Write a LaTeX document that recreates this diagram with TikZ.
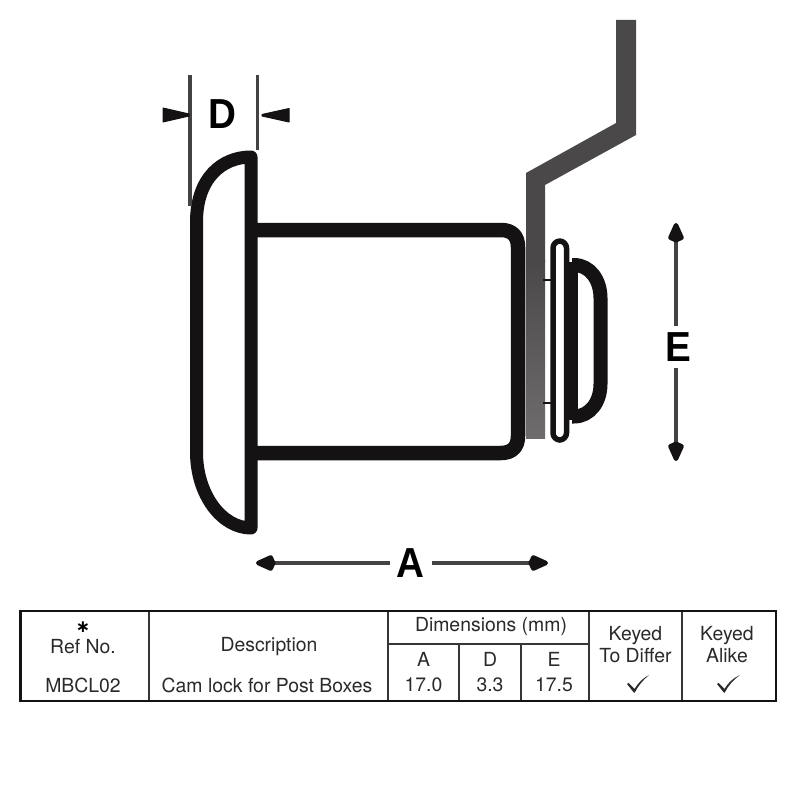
\documentclass[tikz,border=0pt]{standalone}
\usepackage{fontspec}
\setmainfont{TeX Gyre Heros}
\newfontfamily\labelfont{Liberation Sans}
\newfontfamily\starfont{DejaVu Sans}
\usetikzlibrary{arrows.meta}
\definecolor{ink}{HTML}{141213}
\definecolor{plate}{HTML}{4A4849}
\definecolor{platelow}{HTML}{6E6C6D}
\definecolor{dimc}{HTML}{444243}
\definecolor{txt}{HTML}{2B2A2A}
\tikzset{
  lockline/.style={draw=ink,line join=round},
  dimline/.style={draw=dimc,line width=4.5pt},
  dimtip/.style={-{Kite[length=23pt,width=17pt,inset=4pt,round,color=ink]}},
  wedge/.style={fill=ink,draw=ink,line width=1pt,line join=round},
  biglabel/.style={font=\labelfont\fontsize{42}{42}\selectfont\bfseries,text=black,inner sep=0pt,outer sep=4pt,xscale=0.92},
  outerrule/.style={draw=ink,line width=2.6pt},
  innerrule/.style={draw=ink!85,line width=1.4pt},
  cell/.style={font=\fontsize{19.4}{19.4}\selectfont,text=txt,inner sep=0pt,anchor=center},
  tick/.style={fill=txt,draw=none}
}
\begin{document}
\begin{tikzpicture}[x=1pt,y=-1pt]
\useasboundingbox[fill=white] (0,0) rectangle (800,800);
% plate
\shade[top color=plate,bottom color=platelow] (526,260) rectangle (545,438);
\fill[plate] (616,20) -- (636,20) -- (636,135) -- (545,185) -- (545,262) -- (526,262) -- (526,173) -- (616,123) -- cycle;
% head
\draw[lockline,line width=13pt] (251,157) .. controls (222,157) and (196.5,178) .. (196.5,222) -- (196.5,452) .. controls (196.5,495) and (222,528) .. (251,528) -- cycle;
% body
\draw[lockline,line width=14.5pt] (251,230) -- (501,230) .. controls (512,230) and (518,236) .. (518,247) -- (518,436) .. controls (518,447) and (512,453) .. (501,453) -- (251,453);
% ticks
\draw[draw=ink,line width=2pt] (543,280) -- (553,280) (543,403) -- (553,403);
% knob
\draw[lockline,line width=14pt] (572,265) -- (574,265) .. controls (590,265) and (600.5,280) .. (600.5,298) -- (600.5,384) .. controls (600.5,402) and (590,416.5) .. (574,416.5) -- (572,416.5);
\draw[draw=ink,line width=10pt] (573,262) -- (573,420);
% washer
\draw[lockline,fill=white,line width=5.5pt,rounded corners=7pt] (553,241) rectangle (566.5,440);
% D dimension
\draw[draw=dimc,line width=4pt] (190,75) -- (190,206);
\draw[draw=dimc,line width=3.2pt] (257.5,75) -- (257.5,150);
\fill[wedge] (163,108) -- (189,114) -- (189,116) -- (163,122) -- cycle;
\fill[wedge] (262,114.5) -- (289,108.5) -- (289,122) -- (262,116) -- cycle;
\node[biglabel] (labelD) at (222.5,114.5) {D};
% E dimension
\node[biglabel] (labelE) at (678.5,347.5) {E};
\coordinate (eTop) at (676,223);
\coordinate (eBot) at (676,461);
\draw[dimline,dimtip] (676,326) -- (eTop);
\draw[dimline,dimtip] (676,368) -- (eBot);
% A dimension
\node[biglabel] (labelA) at (410,563) {A};
\coordinate (aLeft) at (256,563);
\coordinate (aRight) at (548,563);
\draw[dimline,dimtip] (390,563) -- (aLeft);
\draw[dimline,dimtip] (432,563) -- (aRight);
% table
\draw[innerrule] (149,611) -- (149,701);
\draw[innerrule] (388,611) -- (388,701);
\draw[innerrule] (459,644) -- (459,701);
\draw[innerrule] (521,644) -- (521,701);
\draw[innerrule] (589,611) -- (589,701);
\draw[innerrule] (682,611) -- (682,701);
\draw[innerrule] (388,644) -- (589,644);
\draw[outerrule] (20.5,611) rectangle (776,701);
\node[cell,font=\starfont\fontsize{17}{17}\selectfont\bfseries,text=black] (star) at (83,627) {∗};
\node[cell] (ref) at (83,646.5) {Ref No.};
\node[cell] (desc) at (269,646.5) {Description};
\node[cell] (mbcl) at (83,685) {MBCL02};
\node[cell] (cam) at (267,685) {Cam lock for Post Boxes};
\node[cell] (dims) at (491,626.5) {Dimensions (mm)};
\node[cell] (colA) at (423.5,659) {A};
\node[cell] (colD) at (490,659) {D};
\node[cell] (colE) at (554,659) {E};
\node[cell] (valA) at (423.5,685) {17.0};
\node[cell] (valD) at (490,685) {3.3};
\node[cell] (valE) at (554,685) {17.5};
\node[cell] (kd1) at (635.5,636) {Keyed};
\node[cell] (kd2) at (635.5,656) {To Differ};
\node[cell] (ka1) at (727,636) {Keyed};
\node[cell] (ka2) at (727,656) {Alike};
\fill[tick] (627,684) -- (628.5,683) -- (634.5,689) .. controls (638,683) and (643,678) .. (649,675) .. controls (643,680) and (638,686) .. (634.8,692.5) -- (633.8,692.5) -- cycle;
\fill[tick] (717,684) -- (718.5,683) -- (724.5,689) .. controls (728,683) and (733,678) .. (740,675) .. controls (733,680) and (728,686) .. (724.8,692.5) -- (723.8,692.5) -- cycle;
\end{tikzpicture}
\end{document}
